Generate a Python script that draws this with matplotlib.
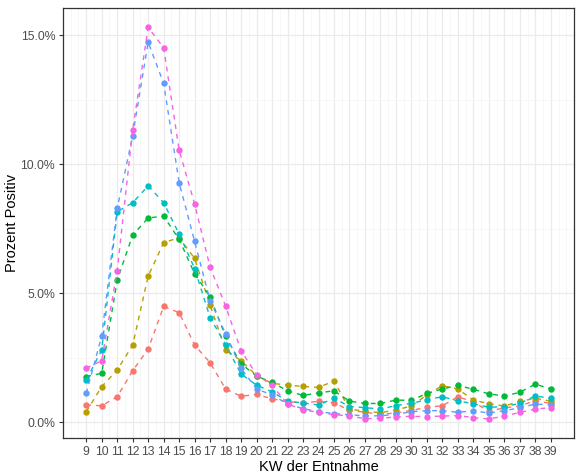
import matplotlib
matplotlib.use("Agg")
import matplotlib.pyplot as plt
from matplotlib.ticker import FuncFormatter, MultipleLocator

plt.rcParams['font.family'] = ['Liberation Sans', 'DejaVu Sans']

weeks = list(range(9, 40))

# percent positive per group (ggplot hue order)
red = [0.66, 0.63, 0.98, 1.99, 2.83, 4.48, 4.24, 2.98, 2.30, 1.28, 1.00, 1.07, 0.90, 0.79, 0.74,
       0.80, 0.75, 0.45, 0.38, 0.30, 0.35, 0.45, 0.57, 0.63, 0.98, 0.78, 0.42, 0.55, 0.62, 0.83, 0.72]
olive = [0.40, 1.37, 2.02, 2.98, 5.66, 6.95, 7.15, 6.34, 4.53, 2.79, 2.38, 1.80, 1.50, 1.43, 1.38,
         1.34, 1.59, 0.50, 0.42, 0.36, 0.47, 0.62, 1.05, 1.41, 1.28, 0.85, 0.71, 0.62, 0.80, 0.92, 0.81]
green = [1.76, 1.89, 5.50, 7.25, 7.91, 7.98, 7.08, 5.75, 4.85, 3.32, 2.26, 1.78, 1.54, 1.21, 1.03,
         1.13, 1.21, 0.81, 0.72, 0.72, 0.85, 0.84, 1.11, 1.28, 1.42, 1.27, 1.09, 1.01, 1.15, 1.47, 1.28]
cyan = [1.63, 2.79, 8.15, 8.50, 9.16, 8.50, 7.29, 5.95, 4.05, 3.00, 1.86, 1.43, 1.17, 0.81, 0.74,
        0.66, 0.92, 0.60, 0.56, 0.50, 0.64, 0.72, 0.87, 0.98, 0.82, 0.71, 0.57, 0.60, 0.72, 1.01, 0.92]
blue = [1.11, 3.33, 8.28, 11.10, 14.72, 13.13, 9.28, 7.00, 4.70, 3.43, 2.08, 1.28, 1.05, 0.70, 0.52,
        0.40, 0.33, 0.28, 0.24, 0.24, 0.30, 0.40, 0.44, 0.44, 0.38, 0.43, 0.35, 0.44, 0.55, 0.70, 0.66]
pink = [2.08, 2.38, 5.86, 11.32, 15.30, 14.51, 10.54, 8.45, 6.00, 4.50, 2.76, 1.84, 1.42, 0.70, 0.48,
        0.37, 0.29, 0.23, 0.13, 0.14, 0.20, 0.22, 0.21, 0.23, 0.25, 0.17, 0.12, 0.23, 0.37, 0.50, 0.56]

series = [red, olive, green, cyan, blue, pink]
colors = ["#F8766D", "#B79F00", "#00BA38", "#00BFC4", "#619CFF", "#F564E3"]

fig = plt.figure(figsize=(5.79, 4.76), dpi=100)
ax = fig.add_axes([0.1088, 0.0798, 0.8826, 0.9034])

for vals, c in zip(series, colors):
    ax.plot(weeks, vals, color=c, linestyle=(0, (3.5, 3.5)), linewidth=1.0,
            marker="o", markersize=4.6, markeredgewidth=0, zorder=3)

ax.set_xlim(7.5, 40.5)
ax.set_ylim(-0.62, 16.05)
ax.set_xticks(weeks)
ax.xaxis.set_minor_locator(MultipleLocator(0.5))
ax.yaxis.set_major_locator(MultipleLocator(5))
ax.yaxis.set_minor_locator(MultipleLocator(2.5))
ax.yaxis.set_major_formatter(FuncFormatter(lambda v, p: "%.1f%%" % v))

ax.grid(which="major", color="#EBEBEB", linewidth=0.9, zorder=0)
ax.grid(which="minor", color="#F4F4F4", linewidth=0.5, zorder=0)
ax.set_axisbelow(True)

for s in ax.spines.values():
    s.set_color("#333333")
    s.set_linewidth(0.9)

ax.tick_params(which="major", length=3, width=0.8, color="#333333",
               labelsize=8.8, labelcolor="#4D4D4D", pad=2.5)
ax.tick_params(which="minor", length=0)

ax.set_xlabel("KW der Entnahme", fontsize=10.5, labelpad=2)
ax.set_ylabel("Prozent Positiv", fontsize=10.5, labelpad=1)

fig.savefig("out.png", dpi=100, facecolor="white")
